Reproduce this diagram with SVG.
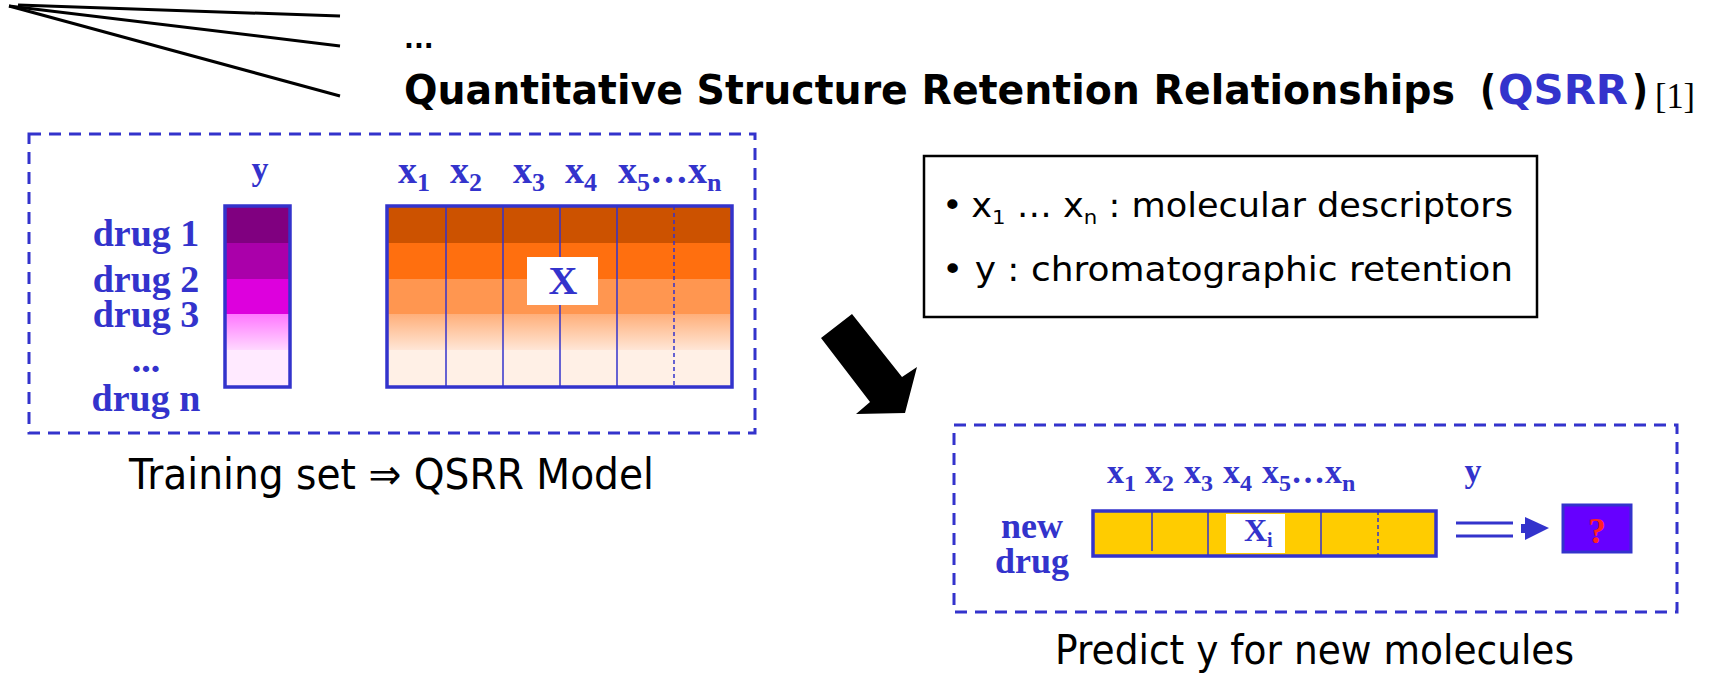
<svg xmlns="http://www.w3.org/2000/svg" width="1713" height="674" viewBox="0 0 1713 674">
<style>
.blue{fill:#3333cc}
.tb{font-family:"Liberation Serif",serif;font-weight:bold;fill:#3333cc}
.cs{font-family:"DejaVu Sans",sans-serif;fill:#000}
.dash{fill:none;stroke:#3333cc;stroke-width:3;stroke-dasharray:12 8}
.grid{stroke:#3333cc;stroke-width:1.5}
.frame{fill:none;stroke:#3333cc;stroke-width:3.5}
</style>
<defs>
<linearGradient id="gy" x1="0" y1="0" x2="0" y2="1"><stop offset="0" stop-color="#ff77ff"/><stop offset="1" stop-color="#ffd8ff"/></linearGradient>
<linearGradient id="gx" x1="0" y1="0" x2="0" y2="1"><stop offset="0" stop-color="#ffaf7a"/><stop offset="1" stop-color="#ffe6d6"/></linearGradient>
</defs>
<rect width="1713" height="674" fill="#fff"/>

<g id="header">
<line x1="18" y1="5" x2="340" y2="16" stroke="#000" stroke-width="3"/>
<line x1="9" y1="6" x2="340" y2="46" stroke="#000" stroke-width="3"/>
<line x1="9" y1="6" x2="340" y2="96" stroke="#000" stroke-width="3"/>
<text class="cs" x="404" y="48" font-size="26" font-weight="bold">...</text>
<text class="cs" x="404" y="104" font-size="40" font-weight="bold" textLength="1051" lengthAdjust="spacingAndGlyphs">Quantitative Structure Retention Relationships</text>
<text class="cs" x="1480" y="104" font-size="40" font-weight="bold" textLength="16" lengthAdjust="spacingAndGlyphs">(</text>
<text class="cs" x="1498" y="104" font-size="40" font-weight="bold" style="fill:#3333cc" textLength="130" lengthAdjust="spacingAndGlyphs">QSRR</text>
<text class="cs" x="1632" y="104" font-size="40" font-weight="bold" textLength="16" lengthAdjust="spacingAndGlyphs">)</text>
<text x="1655" y="108" font-family="Liberation Serif,serif" font-size="36" textLength="40" lengthAdjust="spacingAndGlyphs">[1]</text>
</g>

<g id="training">
<rect class="dash" x="29" y="134" width="726" height="299"/>
<text class="tb" x="260" y="180" font-size="34" text-anchor="middle">y</text>
<g font-size="38" text-anchor="middle">
<text class="tb" x="146" y="246">drug 1</text>
<text class="tb" x="146" y="292">drug 2</text>
<text class="tb" x="146" y="327">drug 3</text>
<text class="tb" x="146" y="372">...</text>
<text class="tb" x="146" y="411">drug n</text>
</g>
<rect x="225" y="206" width="65" height="37" fill="#800080"/>
<rect x="225" y="243" width="65" height="36" fill="#aa00aa"/>
<rect x="225" y="279" width="65" height="35" fill="#dd00dd"/>
<rect x="225" y="314" width="65" height="36" fill="url(#gy)"/>
<rect x="225" y="350" width="65" height="37" fill="#ffeaff"/>
<rect class="frame" x="225" y="206" width="65" height="181"/>

<g font-size="38">
<text class="tb" x="398" y="183">x<tspan font-size="26" dy="8">1</tspan></text>
<text class="tb" x="450" y="183">x<tspan font-size="26" dy="8">2</tspan></text>
<text class="tb" x="513" y="183">x<tspan font-size="26" dy="8">3</tspan></text>
<text class="tb" x="565" y="183">x<tspan font-size="26" dy="8">4</tspan></text>
<text class="tb" x="618" y="183">x<tspan font-size="26" dy="8">5</tspan><tspan dy="-8">…x</tspan><tspan font-size="26" dy="8">n</tspan></text>
</g>
<rect x="387" y="206" width="345" height="37" fill="#cc5200"/>
<rect x="387" y="243" width="345" height="36" fill="#ff6f0f"/>
<rect x="387" y="279" width="345" height="35" fill="#ff9650"/>
<rect x="387" y="314" width="345" height="36" fill="url(#gx)"/>
<rect x="387" y="350" width="345" height="37" fill="#fff0e6"/>
<line class="grid" x1="446" y1="206" x2="446" y2="387"/>
<line class="grid" x1="503" y1="206" x2="503" y2="387"/>
<line class="grid" x1="560" y1="206" x2="560" y2="387"/>
<line class="grid" x1="617" y1="206" x2="617" y2="387"/>
<line class="grid" x1="674" y1="206" x2="674" y2="387" stroke-dasharray="4 3"/>
<rect class="frame" x="387" y="206" width="345" height="181"/>
<rect x="527" y="257" width="71" height="48" fill="#fff"/>
<text class="tb" x="563" y="294" font-size="40" text-anchor="middle">X</text>
<text class="cs" x="129" y="489" font-size="42" textLength="525" lengthAdjust="spacingAndGlyphs">Training set ⇒ QSRR Model</text>
</g>

<g id="legend">
<rect x="924" y="156" width="613" height="161" fill="#fff" stroke="#000" stroke-width="2.5"/>
<text class="cs" x="942" y="217" font-size="33" textLength="571" lengthAdjust="spacingAndGlyphs">•<tspan dx="8">x</tspan><tspan font-size="20" dy="7">1</tspan><tspan dy="-7"> … x</tspan><tspan font-size="20" dy="7">n</tspan><tspan dy="-7"> : molecular descriptors</tspan></text>
<text class="cs" x="942" y="281" font-size="33" textLength="571" lengthAdjust="spacingAndGlyphs">• y : chromatographic retention</text>
</g>

<g id="connectors">
<polygon points="821,338 852,314 902,377 917,367 905,413 856,414 870,402" fill="#000"/>
</g>

<g id="predict">
<rect class="dash" x="954" y="425" width="723" height="187"/>
<g font-size="34">
<text class="tb" x="1107" y="483">x<tspan font-size="24" dy="8">1</tspan></text>
<text class="tb" x="1145" y="483">x<tspan font-size="24" dy="8">2</tspan></text>
<text class="tb" x="1184" y="483">x<tspan font-size="24" dy="8">3</tspan></text>
<text class="tb" x="1223" y="483">x<tspan font-size="24" dy="8">4</tspan></text>
<text class="tb" x="1262" y="483">x<tspan font-size="24" dy="8">5</tspan><tspan dy="-8">…x</tspan><tspan font-size="24" dy="8">n</tspan></text>
</g>
<text class="tb" x="1032" y="538" font-size="36" text-anchor="middle">new</text>
<text class="tb" x="1032" y="573" font-size="36" text-anchor="middle">drug</text>
<rect x="1093" y="511" width="343" height="45" fill="#ffcc00"/>
<line class="grid" x1="1152" y1="511" x2="1152" y2="551"/>
<line class="grid" x1="1208" y1="511" x2="1208" y2="556"/>
<line class="grid" x1="1321" y1="511" x2="1321" y2="556"/>
<line class="grid" x1="1378" y1="511" x2="1378" y2="556" stroke-dasharray="4 3"/>
<rect class="frame" x="1093" y="511" width="343" height="45"/>
<rect x="1226" y="514" width="59" height="39" fill="#fff"/>
<text class="tb" x="1244" y="541" font-size="32">X<tspan font-size="20" dy="6">i</tspan></text>
<text class="tb" x="1473" y="482" font-size="34" text-anchor="middle">y</text>
<line x1="1456" y1="523" x2="1513" y2="523" stroke="#3333cc" stroke-width="3"/>
<line x1="1456" y1="536" x2="1513" y2="536" stroke="#3333cc" stroke-width="3"/>
<rect x="1521" y="524" width="6" height="9" fill="#3333cc"/>
<polygon points="1525,517 1549,528 1525,540" fill="#3333cc"/>
<rect x="1563" y="505" width="68" height="47" fill="#6600ff" stroke="#3333cc" stroke-width="3"/>
<text x="1597" y="543" font-family="Liberation Serif,serif" font-weight="bold" font-size="36" fill="#ff2222" text-anchor="middle">?</text>
<text class="cs" x="1055" y="664" font-size="41" textLength="519" lengthAdjust="spacingAndGlyphs">Predict y for new molecules</text>
</g>
</svg>
